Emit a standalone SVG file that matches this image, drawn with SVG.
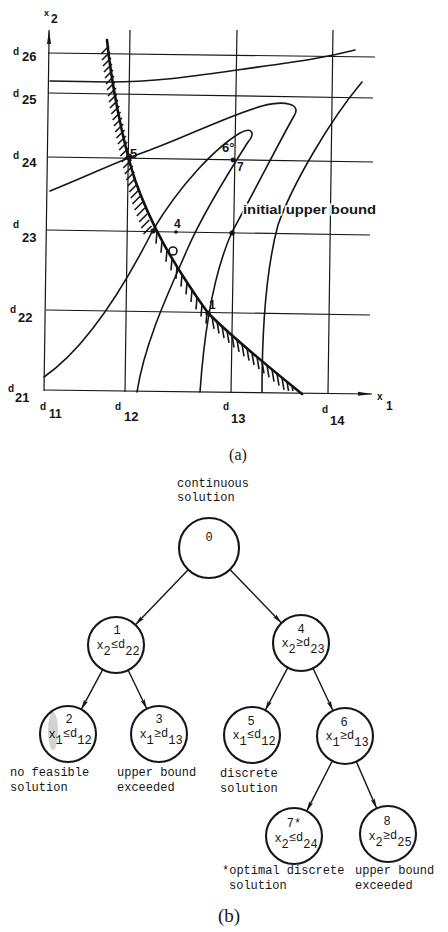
<svg xmlns="http://www.w3.org/2000/svg" width="448" height="932" viewBox="0 0 448 932">
<style>
.bg{fill:#fff}
.grid{stroke:#161616;stroke-width:1.2;fill:none}
.curve{stroke:#161616;stroke-width:1.6;fill:none;stroke-linecap:round}
.cons{stroke:#111;stroke-width:2.6;fill:none;stroke-linecap:round}
.hatch{stroke:#161616;stroke-width:1.6;fill:none}
.lbl{font-family:"Liberation Sans",Arial,sans-serif;font-weight:bold;fill:#161616}
.pt{fill:#161616}
.node circle{fill:none;stroke:#161616;stroke-width:2.1}
.tw{font-family:"Liberation Mono","Courier New",monospace;font-size:12px;fill:#161616}
.nt{font-family:"Liberation Mono","Courier New",monospace;font-size:12px;fill:#161616;text-anchor:middle}
.edge{stroke:#161616;stroke-width:1.4;fill:none}
.cap{font-family:"Liberation Serif","Times New Roman",serif;fill:#161616;text-anchor:middle}
</style>
<defs>
<marker id="ah" viewBox="0 0 10 6" refX="10" refY="3" markerWidth="10" markerHeight="6" markerUnits="userSpaceOnUse" orient="auto">
<path d="M0,0.8 L10,3 L0,5.2 L2,3 z" fill="#161616"/>
</marker>
<marker id="axh" viewBox="0 0 14 6" refX="14" refY="3" markerWidth="14" markerHeight="6" markerUnits="userSpaceOnUse" orient="auto">
<path d="M0,1 L14,3 L0,5 z" fill="#161616"/>
</marker>
<clipPath id="abv"><rect x="0" y="0" width="448" height="391"/></clipPath>
</defs>
<rect class="bg" x="0" y="0" width="448" height="932"/>

<!-- (a) plot -->
<g id="plot">
<!-- axes -->
<path class="grid" d="M49,40 L44,391" stroke-width="1.4"/>
<path class="grid" d="M49,40 L49,30" marker-end="url(#axh)"/>
<path class="grid" d="M44,390 L372,394" stroke-width="1.4" marker-end="url(#axh)"/>
<!-- horizontal grid -->
<path class="grid" d="M48,53 L375,57 M48,93 L373,98 M48,157 L373,162 M47,230 L370,235 M46,310 L370,315"/>
<!-- vertical grid -->
<path class="grid" d="M130,30 L125,392 M237,30 L231,393 M333,30 L328,393"/>
<!-- contours -->
<path class="curve" d="M50,81 L110,82 C150,82 180,78 237,70 S320,59 355,50"/>
<path class="curve" d="M50,191 C90,175 120,160 150,150 C190,135 230,115 262,106 C285,100 302,104 294,116 C283,135 255,190 232,232 C215,270 205,320 200,392"/>
<path class="curve" d="M44,377 C80,352 115,305 153,230 C180,185 215,148 240,133 C253,126 255,134 248,142 C225,178 200,220 187,250 C172,285 145,340 137,392"/>
<path class="curve" d="M362,82 C330,120 292,185 278,225 C268,262 262,320 262,392"/>
<!-- constraint with hatching -->
<path class="cons" d="M107,40 C111,80 122,140 135,180 C150,222 170,260 208,313 C235,340 270,368 302,394"/>
<path class="hatch" clip-path="url(#abv)" d="M109,46l-8,8 M110,52l-8,8 M111,58l-8,8 M112,64l-8,8 M113,70l-8,8 M114,76l-8,8 M115,82l-8,8 M116,88l-8,8 M117,94l-8,8 M118,100l-8,8 M119.3,106l-8,8 M120.6,112l-8,8 M121.9,118l-8,8 M123.2,124l-8,8 M124.5,130l-8,8 M125.9,136l-8,8 M127.2,142l-8,8 M128.5,148l-8,8 M129.8,154l-8,8 M131.3,160l-8,8 M132.8,166l-8,8 M134.3,172l-8,8 M135.8,178l-8,8 M137.3,184l-8,8 M138.8,190l-8,8 M140.4,196l-8,8 M142.6,202l-8,8 M144.8,208l-8,8 M147.1,214l-8,8 M149.3,220l-8,8 M151.5,226l-8,8 M157,231.6l-1,12 M162,240.7l-1,12 M167,249.7l-1,12 M172,258.4l-1,12 M177,266.7l-1,12 M182,274.6l-1,12 M187,282.4l-1,12 M192,290l-1,12 M197,297.4l-1,12 M202,304.5l-1,12 M207,311.6l-1,12 M212,316.8l2,12 M217,321.5l2,12 M222,326.2l2,12 M227,330.9l2,12 M232,335.5l2,12 M237,339.9l2,12 M242,344.3l2,12 M247,348.6l2,12 M252,353l2,12 M257,357.1l2,12 M262,361.3l2,12 M267,365.4l2,12 M272,369.6l2,12 M277,373.7l2,12 M282,377.8l2,12 M287,381.9l2,12 M292,385.9l2,12"/>
<!-- points -->
<circle class="pt" cx="129" cy="157" r="3.2"/>
<circle class="pt" cx="153" cy="231" r="2.6"/>
<circle class="pt" cx="233" cy="160" r="2.4"/>
<circle class="pt" cx="232" cy="233" r="2.6"/>
<circle class="pt" cx="208" cy="313" r="2.6"/>
<circle class="pt" cx="176" cy="232" r="1.8"/>
<circle cx="173" cy="251" r="4" fill="none" stroke="#161616" stroke-width="1.6"/>
<text class="lbl" x="130" y="158" font-size="13">5</text>
<text class="lbl" x="222" y="152" font-size="13">6°</text>
<text class="lbl" x="237" y="171" font-size="12">7</text>
<text class="lbl" x="174" y="228" font-size="12">4</text>
<text class="lbl" x="209" y="309" font-size="12">1</text>
<text class="lbl" x="243" y="214" font-size="13" textLength="133" lengthAdjust="spacingAndGlyphs" stroke="#fff" stroke-width="3" paint-order="stroke">initial upper bound</text>
<!-- axis labels -->
<text class="lbl" x="44" y="16" font-size="9">x</text>
<text class="lbl" x="51" y="23" font-size="12">2</text>
<text class="lbl" x="377" y="400" font-size="10">x</text>
<text class="lbl" x="386" y="410" font-size="12">1</text>
<text class="lbl" x="13" y="55" font-size="10">d</text><text class="lbl" x="22" y="61" font-size="13">26</text>
<text class="lbl" x="13" y="97" font-size="10">d</text><text class="lbl" x="22" y="104" font-size="13">25</text>
<text class="lbl" x="13" y="159" font-size="10">d</text><text class="lbl" x="22" y="167" font-size="13">24</text>
<text class="lbl" x="13" y="228" font-size="10">d</text><text class="lbl" x="22" y="242" font-size="13">23</text>
<text class="lbl" x="10" y="313" font-size="10">d</text><text class="lbl" x="18" y="322" font-size="13">22</text>
<text class="lbl" x="8" y="392" font-size="10">d</text><text class="lbl" x="15" y="402" font-size="13">21</text>
<text class="lbl" x="40" y="410" font-size="10">d</text><text class="lbl" x="49" y="418" font-size="12">11</text>
<text class="lbl" x="115" y="410" font-size="10">d</text><text class="lbl" x="124" y="421" font-size="13">12</text>
<text class="lbl" x="223" y="410" font-size="10">d</text><text class="lbl" x="231" y="423" font-size="13">13</text>
<text class="lbl" x="322" y="413" font-size="10">d</text><text class="lbl" x="330" y="425" font-size="13">14</text>
<text class="cap" x="238" y="460" font-size="16">(a)</text>
</g>

<!-- (b) tree -->
<g id="connectors">
<path class="edge" marker-end="url(#ah)" d="M188.2,569.7 L135.4,624.8"/>
<path class="edge" marker-end="url(#ah)" d="M229.9,569.6 L281.5,622.9"/>
<path class="edge" marker-end="url(#ah)" d="M102.7,669.6 L81.3,709.4"/>
<path class="edge" marker-end="url(#ah)" d="M128.2,670.2 L146.8,708.8"/>
<path class="edge" marker-end="url(#ah)" d="M287.8,667.7 L265.2,710.3"/>
<path class="edge" marker-end="url(#ah)" d="M313,668.3 L333,710.7"/>
<path class="edge" marker-end="url(#ah)" d="M332.3,760.9 L306.7,811.1"/>
<path class="edge" marker-end="url(#ah)" d="M356.3,761.6 L376.7,808.4"/>
</g>

<g id="node0" class="node">
<circle cx="209" cy="548" r="30"/>
<text class="nt" x="209" y="541">0</text>
<text class="tw" x="177" y="487">continuous</text>
<text class="tw" x="177" y="501">solution</text>
</g>
<g id="node1" class="node">
<circle cx="116" cy="645" r="28"/>
<text class="nt" x="117" y="634">1</text>
<text class="nt" x="118" y="649">x<tspan dy="6">2</tspan><tspan dy="-7">≤</tspan>d<tspan dy="7">22</tspan></text>
</g>
<g id="node2" class="node">
<ellipse cx="53" cy="731" rx="5" ry="19" fill="#c8c8c8" opacity="0.8"/>
<circle cx="68" cy="734" r="28"/>
<text class="nt" x="69" y="723">2</text>
<text class="nt" x="70" y="738">x<tspan dy="6">1</tspan><tspan dy="-7">≤</tspan>d<tspan dy="7">12</tspan></text>
<text class="tw" x="10" y="776">no feasible</text>
<text class="tw" x="10" y="791">solution</text>
</g>
<g id="node3" class="node">
<circle cx="159" cy="734" r="28"/>
<text class="nt" x="159" y="723">3</text>
<text class="nt" x="161" y="738">x<tspan dy="6">1</tspan><tspan dy="-7">≥</tspan>d<tspan dy="7">13</tspan></text>
<text class="tw" x="117" y="776">upper bound</text>
<text class="tw" x="117" y="791">exceeded</text>
</g>
<g id="node4" class="node">
<circle cx="301" cy="643" r="28"/>
<text class="nt" x="301" y="633">4</text>
<text class="nt" x="303" y="647">x<tspan dy="6">2</tspan><tspan dy="-7">≥</tspan>d<tspan dy="7">23</tspan></text>
</g>
<g id="node5" class="node">
<circle cx="252" cy="735" r="28"/>
<text class="nt" x="251" y="725">5</text>
<text class="nt" x="254" y="739">x<tspan dy="6">1</tspan><tspan dy="-7">≤</tspan>d<tspan dy="7">12</tspan></text>
<text class="tw" x="220" y="777">discrete</text>
<text class="tw" x="220" y="792">solution</text>
</g>
<g id="node6" class="node">
<circle cx="345" cy="736" r="28"/>
<text class="nt" x="344" y="726">6</text>
<text class="nt" x="347" y="740">x<tspan dy="6">1</tspan><tspan dy="-7">≥</tspan>d<tspan dy="7">13</tspan></text>
</g>
<g id="node7" class="node">
<circle cx="294" cy="836" r="28"/>
<text class="nt" x="294" y="827">7*</text>
<text class="nt" x="296" y="842">x<tspan dy="6">2</tspan><tspan dy="-7">≤</tspan>d<tspan dy="7">24</tspan></text>
<text class="tw" x="222" y="874">*optimal discrete</text>
<text class="tw" x="229" y="889">solution</text>
</g>
<g id="node8" class="node">
<circle cx="388" cy="834" r="28"/>
<text class="nt" x="387" y="825">8</text>
<text class="nt" x="390" y="840">x<tspan dy="6">2</tspan><tspan dy="-7">≥</tspan>d<tspan dy="7">25</tspan></text>
<text class="tw" x="355" y="874">upper bound</text>
<text class="tw" x="355" y="889">exceeded</text>
</g>
<text class="cap" x="229" y="922" font-size="19">(b)</text>
</svg>
